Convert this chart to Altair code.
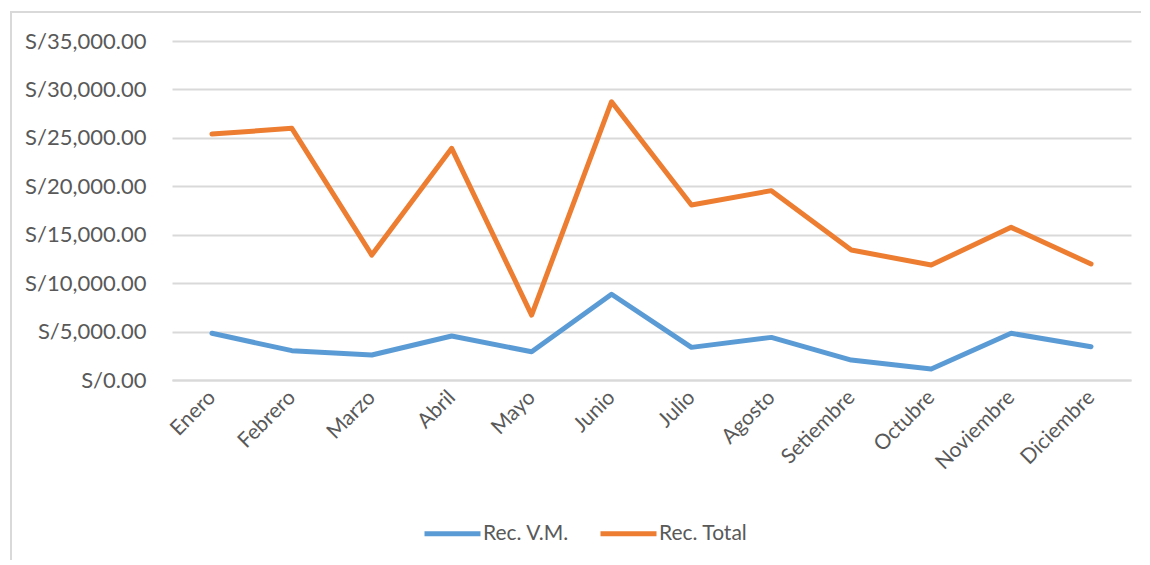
import altair as alt
import pandas as pd

months = ["Enero", "Febrero", "Marzo", "Abril", "Mayo", "Junio", "Julio",
          "Agosto", "Setiembre", "Octubre", "Noviembre", "Diciembre"]
rec_vm = [4820, 3030, 2580, 4540, 2920, 8850, 3370, 4400, 2060, 1130, 4820, 3440]
rec_total = [25400, 25980, 12900, 23920, 6700, 28730, 18070, 19550, 13420, 11870, 15760, 11980]
series = ["Rec. V.M.", "Rec. Total"]
colors = ["#5B9BD5", "#ED7D31"]
y_ticks = [0, 5000, 10000, 15000, 20000, 25000, 30000, 35000]

df = pd.DataFrame({"Mes": months, series[0]: rec_vm, series[1]: rec_total})
long = df.melt(id_vars="Mes", var_name="Serie", value_name="Valor")

FONT = "Lato"
TXT = "#595959"
GRID = "#D9D9D9"

lines = alt.Chart(long).mark_line(strokeWidth=5, strokeCap="round", strokeJoin="round").encode(
    x=alt.X("Mes:N", sort=months, title=None,
            scale=alt.Scale(paddingOuter=0.5, paddingInner=0),
            axis=alt.Axis(labelAngle=-45, labelAlign="right", labelBaseline="middle",
                          labelPadding=14, ticks=False, domain=True, domainColor=GRID,
                          domainWidth=2, grid=False, labelFontSize=21,
                          labelColor=TXT, labelFont=FONT)),
    y=alt.Y("Valor:Q", title=None,
            scale=alt.Scale(domain=[0, 35000], nice=False),
            axis=alt.Axis(values=y_ticks, labelExpr="'S/' + format(datum.value, ',.2f')",
                          ticks=False, domain=False,
                          grid=True, gridColor=GRID, gridWidth=2, labelPadding=26,
                          labelFontSize=22, labelColor=TXT, labelFont=FONT)),
    color=alt.Color("Serie:N", sort=series,
                    scale=alt.Scale(domain=series, range=colors),
                    legend=alt.Legend(title=None, orient="none", direction="horizontal",
                                      legendX=250, legendY=462,
                                      symbolType="stroke", symbolSize=3136,
                                      symbolStrokeWidth=5, labelFontSize=21,
                                      labelColor=TXT, labelFont=FONT, labelOffset=0,
                                      columnPadding=20)),
)

frame_data = alt.Data(values=[{}])
frame_left = alt.Chart(frame_data).mark_rule(color=GRID, strokeWidth=2, clip=False).encode(
    x=alt.value(-161), y=alt.value(-29), y2=alt.value(530))
frame_top = alt.Chart(frame_data).mark_rule(color=GRID, strokeWidth=2, clip=False).encode(
    x=alt.value(-162), x2=alt.value(1000), y=alt.value(-29))

chart = alt.layer(frame_left, frame_top, lines).properties(
    width=959, height=339,
    autosize=alt.AutoSizeParams(type="none"),
    padding={"left": 164, "top": 33, "right": 10, "bottom": 180},
).configure_view(stroke=None)

chart.save("out.html", embed_options={"renderer": "svg", "actions": False})
